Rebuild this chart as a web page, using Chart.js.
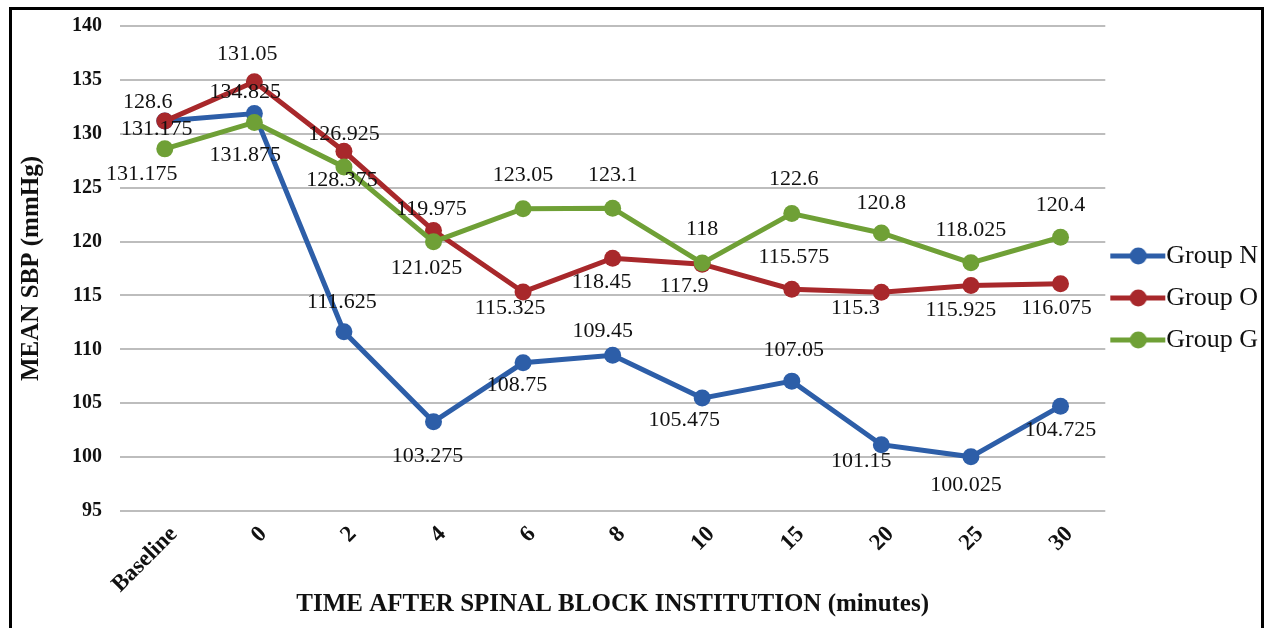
<!DOCTYPE html>
<html>
<head>
<meta charset="utf-8">
<script src="https://cdn.jsdelivr.net/npm/chart.js@4"></script>
<style>
  html, body { margin: 0; padding: 0; background: #fff; }
  #frame { position: absolute; left: 9px; top: 7px; width: 1255px; height: 640px;
           border: 3px solid #000; box-sizing: border-box; }
  #wrap { position: absolute; left: 0; top: 0; width: 1272px; height: 628px; }
</style>
</head>
<body>
<div id="frame"></div>
<div id="wrap"><canvas id="chart_sbp"></canvas></div>
<script>
// time points (minutes after spinal block)
var timeLabels = ['Baseline', '0', '2', '4', '6', '8', '10', '15', '20', '25', '30'];

// mean SBP per group (mmHg)
var groupN = [131.175, 131.875, 111.625, 103.275, 108.75, 109.45, 105.475, 107.05, 101.15, 100.025, 104.725];
var groupO = [131.175, 134.825, 128.375, 121.025, 115.325, 118.45, 117.9, 115.575, 115.3, 115.925, 116.075];
var groupG = [128.6, 131.05, 126.925, 119.975, 123.05, 123.1, 118, 122.6, 120.8, 118.025, 120.4];

// nudge of each value label from its point, in px [dx, dy]
var nudgeN = [[-23, 53], [-9, 42], [-2, -30], [-6, 34], [-6, 22], [-10, -24], [-18, 22], [2, -31], [-20, 17], [-5, 28], [0, 24]];
var nudgeO = [[-8, 8], [-9, 10], [-2, 29], [-7, 38], [-13, 16], [-11, 24], [-18, 22], [2, -32], [-26, 16], [-10, 25], [-4, 24]];
var nudgeG = [[-17, -47], [-7, -68], [0, -33], [-2, -33], [0, -33], [0, -33], [0, -34], [2, -34], [0, -30], [0, -33], [0, -32]];

var serif = '"Liberation Serif", "DejaVu Serif", serif';

// line + dot icon, only used in the legend
function legendIcon(color) {
    var c = document.createElement('canvas');
    c.width = 60; c.height = 24;
    var g = c.getContext('2d');
    g.strokeStyle = color;
    g.lineWidth = 5;
    g.beginPath();
    g.moveTo(3, 12);
    g.lineTo(58, 12);
    g.stroke();
    g.fillStyle = color;
    g.beginPath();
    g.arc(31, 12, 8.5, 0, Math.PI * 2);
    g.fill();
    return c;
}

// draws the numbers next to every point
var valueLabels = {
    id: 'valueLabels',
    afterDatasetsDraw: function(chart) {
        var ctx = chart.ctx;
        ctx.save();
        ctx.font = '22px ' + serif;
        ctx.fillStyle = '#111';
        ctx.textAlign = 'center';
        ctx.textBaseline = 'middle';
        chart.data.datasets.forEach(function(ds, i) {
            var meta = chart.getDatasetMeta(i);
            meta.data.forEach(function(pt, j) {
                var n = ds.nudge[j];
                ctx.fillText(String(ds.data[j]), pt.x + n[0], pt.y + n[1]);
            });
        });
        ctx.restore();
    }
};

var ctxSBP = document.getElementById('chart_sbp').getContext('2d');
var ChartSBP = new Chart(ctxSBP, {
    type: 'line',
    data: {
        labels: timeLabels,
        datasets: [{
            label: 'Group N',
            data: groupN,
            nudge: nudgeN,
            borderColor: '#2D5EA8',
            backgroundColor: '#2D5EA8',
            order: 3
        }, {
            label: 'Group O',
            data: groupO,
            nudge: nudgeO,
            borderColor: '#A8282B',
            backgroundColor: '#A8282B',
            order: 2
        }, {
            label: 'Group G',
            data: groupG,
            nudge: nudgeG,
            borderColor: '#6FA036',
            backgroundColor: '#6FA036',
            order: 1
        }]
    },
    options: {
        responsive: true,
        maintainAspectRatio: false,
        animation: false,
        layout: { padding: { left: 12, top: 9, right: 4, bottom: 8 } },
        elements: {
            line: { borderWidth: 5, tension: 0 },
            point: { pointStyle: 'circle', radius: 8.5, hoverRadius: 8.5, borderWidth: 0 }
        },
        plugins: {
            tooltip: { enabled: false },
            legend: {
                position: 'right',
                align: 'start',
                title: { display: true, text: '', font: { size: 10 }, padding: { top: 206, bottom: 0 } },
                labels: {
                    usePointStyle: true,
                    pointStyleWidth: 32,
                    boxHeight: 26,
                    padding: 16,
                    color: '#111',
                    font: { family: serif, size: 26 },
                    sort: function(a, b) { return a.datasetIndex - b.datasetIndex; },
                    generateLabels: function(chart) {
                        var items = Chart.defaults.plugins.legend.labels.generateLabels(chart);
                        items.forEach(function(it) {
                            it.pointStyle = legendIcon(chart.data.datasets[it.datasetIndex].borderColor);
                        });
                        return items;
                    }
                }
            }
        },
        scales: {
            x: {
                offset: true,
                afterFit: function(scale) { scale.height = 109; },
                grid: { display: false },
                border: { display: false },
                ticks: {
                    maxRotation: 45,
                    minRotation: 45,
                    labelOffset: 9,
                    padding: 2,
                    color: '#111',
                    font: { family: serif, size: 23, weight: 'bold' }
                },
                title: {
                    display: true,
                    text: 'TIME AFTER SPINAL BLOCK INSTITUTION (minutes)',
                    color: '#111',
                    font: { family: serif, size: 25, weight: 'bold' },
                    padding: { top: 2, bottom: 0 }
                }
            },
            y: {
                min: 95,
                max: 140,
                afterFit: function(scale) {
                    scale.width = 108;
                    scale.paddingTop = 26;
                },
                ticks: {
                    stepSize: 5,
                    color: '#111',
                    padding: 18,
                    font: { family: serif, size: 20, weight: 'bold' }
                },
                grid: { color: '#BDBDBD', lineWidth: 2, drawTicks: false },
                border: { display: false },
                title: {
                    display: true,
                    text: 'MEAN SBP (mmHg)',
                    color: '#111',
                    font: { family: serif, size: 25, weight: 'bold' },
                    padding: { top: 5, bottom: 0 }
                }
            }
        }
    },
    plugins: [valueLabels]
});
</script>
</body>
</html>
